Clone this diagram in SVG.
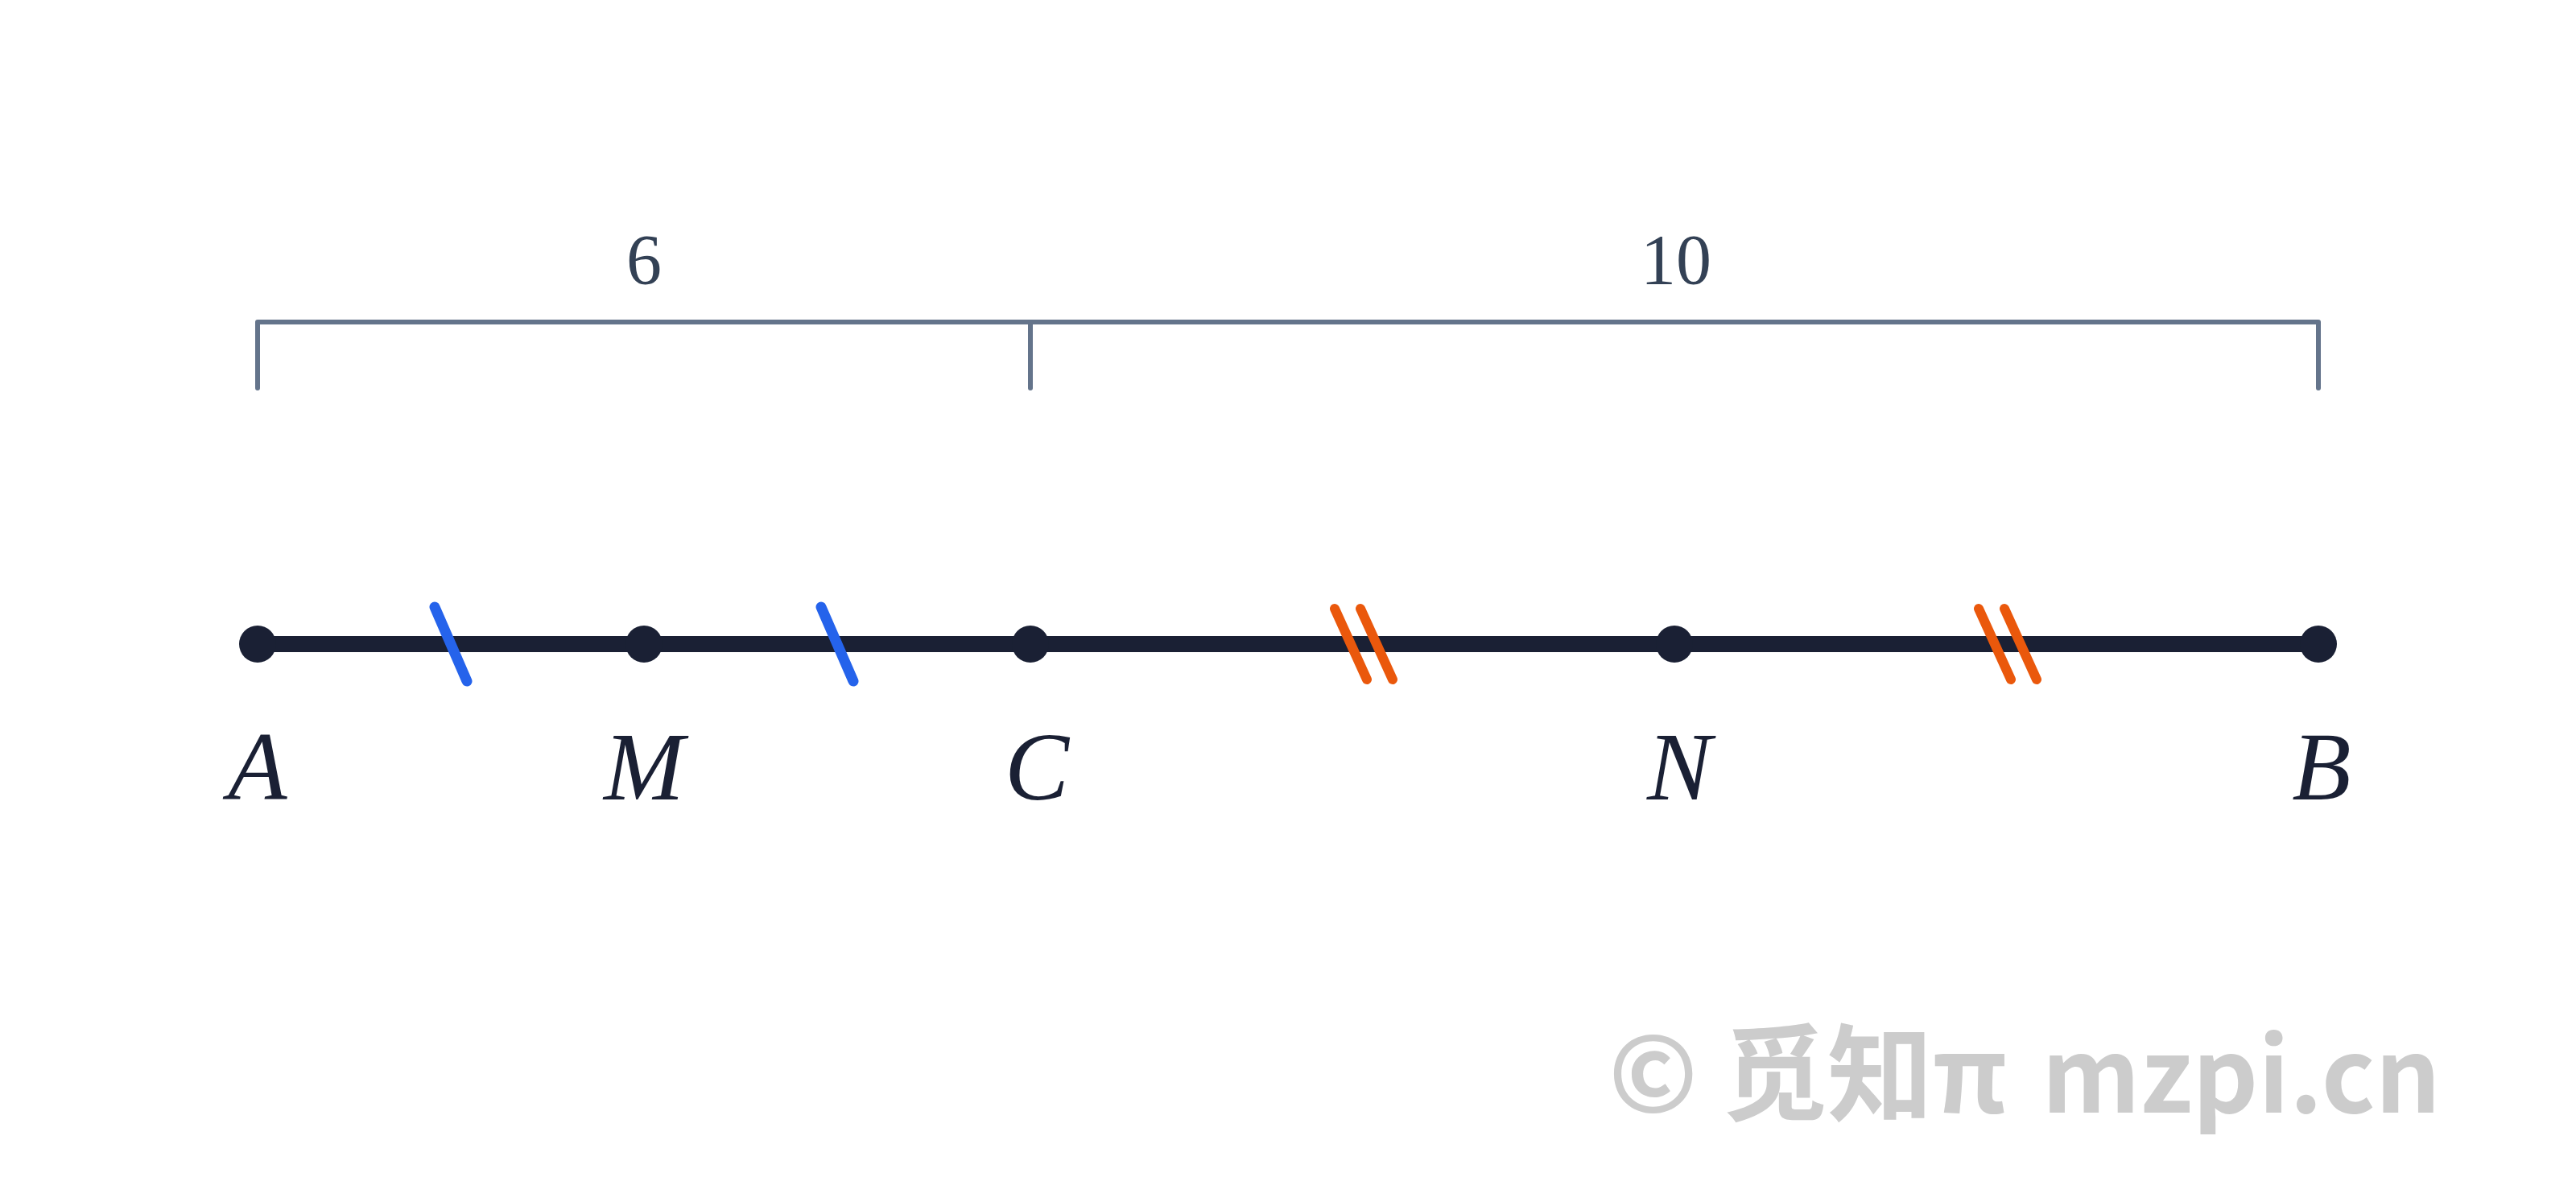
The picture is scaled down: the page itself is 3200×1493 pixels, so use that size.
<svg xmlns="http://www.w3.org/2000/svg" width="3200" height="1493" viewBox="0 0 3200 1493">
<style>
.seg{stroke:#1a2034;stroke-width:20;stroke-linecap:round;fill:none}
.pt{fill:#1a2034}
.lbl{font-family:"Liberation Serif","Times New Roman",serif;font-style:italic;font-size:120px;fill:#1a2034;text-anchor:middle}
.br{stroke:#64748b;stroke-width:6;stroke-linecap:round;stroke-linejoin:round;fill:none}
.num{font-family:"Liberation Serif","Times New Roman",serif;font-size:88px;fill:#334155;text-anchor:middle}
.tb{stroke:#2563eb;stroke-width:13;stroke-linecap:round}
.to{stroke:#ea580c;stroke-width:12;stroke-linecap:round}
.wm{font-family:"Noto Sans CJK SC","Noto Sans",sans-serif;font-weight:bold;font-size:131px;fill:#cccccc}
</style>
<rect width="3200" height="1493" fill="#ffffff"/>
<g id="brackets">
<path class="br" d="M320,482 V400 H2880 V482"/>
<path class="br" d="M1280,400 V482"/>
<text class="num" x="800" y="352">6</text>
<text class="num" x="2082" y="352">10</text>
</g>
<g id="connectors">
<line class="seg" x1="320" y1="800" x2="2880" y2="800"/>
</g>
<g id="ticks">
<line class="tb" x1="540" y1="754" x2="580" y2="846"/>
<line class="tb" x1="1020" y1="754" x2="1060" y2="846"/>
<line class="to" x1="1658" y1="756" x2="1698" y2="844"/>
<line class="to" x1="1690" y1="756" x2="1730" y2="844"/>
<line class="to" x1="2458" y1="756" x2="2498" y2="844"/>
<line class="to" x1="2490" y1="756" x2="2530" y2="844"/>
</g>
<g id="A"><circle class="pt" cx="320" cy="800" r="23"/><text class="lbl" x="320" y="993">A</text></g>
<g id="M"><circle class="pt" cx="800" cy="800" r="23"/><text class="lbl" x="800" y="993">M</text></g>
<g id="C"><circle class="pt" cx="1280" cy="800" r="23"/><text class="lbl" x="1288" y="993">C</text></g>
<g id="N"><circle class="pt" cx="2080" cy="800" r="23"/><text class="lbl" x="2086" y="993">N</text></g>
<g id="B"><circle class="pt" cx="2880" cy="800" r="23"/><text class="lbl" x="2884" y="993">B</text></g>
<g id="watermark">
<text class="wm" x="1998" y="1382">© 觅知π</text>
<text class="wm" x="3032" y="1382" text-anchor="end" style="font-size:127px">mzpi.cn</text>
</g>
</svg>
